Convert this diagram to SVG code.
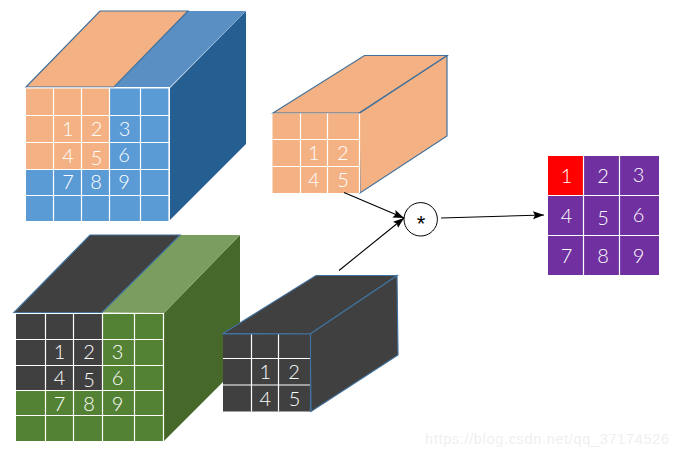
<svg xmlns="http://www.w3.org/2000/svg" width="678" height="457" viewBox="0 0 678 457">
<style>
.g{stroke:#fff;stroke-width:1.2;fill:none}
.e{stroke:#41719C;stroke-width:1.2}
.d{font-family:Lato,"Liberation Sans",sans-serif;font-size:20px;font-weight:300;fill:#fff;text-anchor:middle}
.c{stroke:#000;stroke-width:1.1;fill:none;marker-end:url(#a)}
.o{fill:#F4B183}.b{fill:#5B9BD5}.k{fill:#404040}.l{fill:#548235}.p{fill:#7030A0}
</style>
<defs><marker id="a" markerUnits="userSpaceOnUse" markerWidth="12" markerHeight="10" refX="11" refY="4" orient="auto"><path d="M0 0L11 4L0 8L2 4Z" fill="#000"/></marker></defs>
<rect width="678" height="457" fill="#fff"/>
<g id="blue-cube">
<path d="M170 88L246 11V144L170 220Z" fill="#255E91"/>
<path d="M114 87L188 11H246L170 87Z" fill="#5A8FC4"/>
<path class="o e" d="M26 87L100 11H188L114 87Z"/>
<rect class="b" x="26" y="88" width="143" height="133"/>
<rect class="o" x="26" y="88" width="83.500" height="81"/>
<path class="g" d="M26 88H169V221.500M53.500 88V221.500M81.500 88V221.500M109.500 88V221.500M140.500 88V221.500M26 115.500H169M26 142.500H169M26 169.500H169M26 195.500H169"/>
<text class="d" x="67.700" y="136">1</text><text class="d" x="96.500" y="136">2</text><text class="d" x="124.500" y="136">3</text>
<text class="d" x="68" y="163">4</text><text class="d" x="96.500" y="164.500">5</text><text class="d" x="124" y="162">6</text>
<text class="d" x="68" y="189">7</text><text class="d" x="96" y="189">8</text><text class="d" x="124" y="189">9</text>
</g>
<g id="green-cube">
<path d="M164 313L240 235V365L164 441Z" fill="#46692B"/>
<path d="M102 312.500L180 235H240L164 313Z" fill="#7A9E5F"/>
<path class="k e" d="M14 312.500L90 235H180L102 312.500Z"/>
<rect class="l" x="16" y="313" width="147.500" height="128.500"/>
<rect class="k" x="16" y="313" width="86.500" height="77.500"/>
<path class="g" d="M16 313.500H163.500V441.500H16M45.500 313V441.500M73.500 313V441.500M102.500 313V441.500M134.500 313V441.500M16 339.500H163.500M16 365.500H163.500M16 390.500H163.500M16 415.500H163.500"/>
<text class="d" x="59.500" y="359">1</text><text class="d" x="89" y="359">2</text><text class="d" x="117.500" y="359">3</text>
<text class="d" x="59.500" y="385">4</text><text class="d" x="89" y="387">5</text><text class="d" x="117.500" y="385">6</text>
<text class="d" x="59.500" y="411">7</text><text class="d" x="89" y="411">8</text><text class="d" x="117.500" y="411">9</text>
</g>
<g id="orange-block">
<path class="o e" d="M359 113.500L447 55.500L447 136L360 193Z"/>
<path class="o e" d="M273 113L364.500 55.500H447L359 113Z"/>
<rect class="o" x="272.500" y="113.500" width="87" height="79.500"/>
<path class="g" d="M300.500 113.500V193M327.500 113.500V193M272.500 139.500H359.500M272.500 166.500H359.500M359.500 113.500V193"/>
<text class="d" x="313.700" y="160">1</text><text class="d" x="342.700" y="160">2</text>
<text class="d" x="313.700" y="186.700">4</text><text class="d" x="343" y="187">5</text>
</g>
<g id="dark-block">
<path class="k e" d="M310 334L397 275.500L398 355L311 411.500Z"/>
<path class="k e" d="M223 333.500L316 275.500H397L310 334Z"/>
<rect class="k" x="223" y="334" width="87.500" height="77.500"/>
<path class="g" d="M251.500 334V411.500M278.500 334V411.500M223 358.500H310.500M223 385H310.500"/>
<path d="M223 334H310.500V411.500" fill="none" stroke="#41719C" stroke-width="1.2"/>
<text class="d" x="265.300" y="379">1</text><text class="d" x="294" y="379">2</text>
<text class="d" x="265.300" y="406">4</text><text class="d" x="294.500" y="406">5</text>
</g>
<g id="multiply">
<circle cx="420.700" cy="219.300" r="16.700" fill="#fff" stroke="#000" stroke-width="1"/>
<text x="421" y="231" font-family="Liberation Sans, sans-serif" font-size="22" text-anchor="middle" fill="#000">*</text>
</g>
<g id="result">
<rect class="p" x="548" y="156" width="111" height="119"/>
<rect x="548" y="156" width="35.500" height="39" fill="#f00"/>
<path class="g" d="M583.500 156V275M619.500 156V275M548 195.500H659M548 235.500H659"/>
<text class="d" x="566.500" y="182.700">1</text><text class="d" x="603" y="182.700">2</text><text class="d" x="638.500" y="182">3</text>
<text class="d" x="566.500" y="222.500">4</text><text class="d" x="603" y="225">5</text><text class="d" x="638.500" y="222">6</text>
<text class="d" x="566.500" y="263">7</text><text class="d" x="603" y="263">8</text><text class="d" x="638.500" y="263">9</text>
</g>
<g id="connectors">
<path class="c" d="M344 192.500L404 218"/>
<path class="c" d="M339 270.500L404 218"/>
<path class="c" d="M441 218L544 215"/>
</g>
<text x="425" y="444" font-family="Liberation Sans, sans-serif" font-size="14.500" fill="#efefef" textLength="244">https://blog.csdn.net/qq_37174526</text>
</svg>
